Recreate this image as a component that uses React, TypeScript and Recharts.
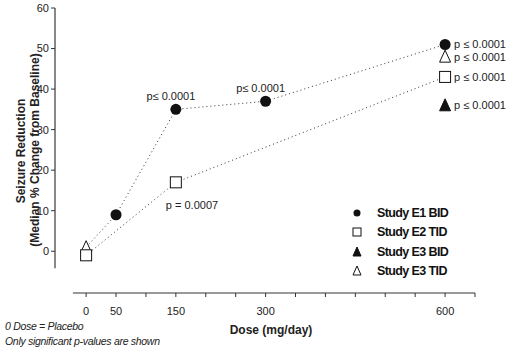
import React from 'react';
import { ComposedChart, Line, Scatter, XAxis, YAxis, ReferenceLine } from 'recharts';

// values
const e1Doses = [0, 50, 150, 300, 600];
const e1Values = [1, 9, 35, 37, 51];
const e1P = ['', '', 'p≤ 0.0001', 'p≤ 0.0001', 'p ≤ 0.0001'];

const e2Doses = [0, 150, 600];
const e2Values = [-1, 17, 43];
const e2P = ['', 'p = 0.0007', 'p ≤ 0.0001'];

const e3BidDoses = [600];
const e3BidValues = [36];
const e3BidP = ['p ≤ 0.0001'];

const e3TidDoses = [0, 600];
const e3TidValues = [1, 48];
const e3TidP = ['', 'p ≤ 0.0001'];

const seriesNames = ['Study E1 BID', 'Study E2 TID', 'Study E3 BID', 'Study E3 TID'];

const xTicks = [0, 50, 100, 150, 200, 250, 300, 350, 400, 450, 500, 550, 600, 650];
const xLabelled = [0, 50, 150, 300, 600];
const yTicks = [0, 10, 20, 30, 40, 50, 60];

const build = (doses: number[], values: number[], p: string[]) =>
    doses.map((dose, i) => ({ dose, v: values[i], p: p[i] }));

const e1Line = build(e1Doses, e1Values, e1P);
const e1Pts = e1Line.filter(d => d.dose > 0); // placebo marker is the E3 TID triangle
const e2Data = build(e2Doses, e2Values, e2P);
const e3BidData = build(e3BidDoses, e3BidValues, e3BidP);
const e3TidData = build(e3TidDoses, e3TidValues, e3TidP);

const INK = '#111';
const FONT = 'Liberation Sans, Arial, sans-serif';

type Kind = 'circle' | 'square' | 'tri' | 'otri';

const Marker = ({ kind, cx, cy, s }: { kind: Kind; cx: number; cy: number; s: number }) => {
    const h = s / 2;
    if (kind === 'circle') return <circle cx={cx} cy={cy} r={h} fill={INK} />;
    if (kind === 'square')
        return <rect x={cx - h} y={cy - h} width={s} height={s} fill="#fff" stroke={INK} strokeWidth={1} />;
    const pts = `${cx},${cy - h - 1} ${cx - h},${cy + h} ${cx + h},${cy + h}`;
    return <polygon points={pts} fill={kind === 'tri' ? INK : '#fff'} stroke={INK} strokeWidth={1} />;
};

// marker plus its p-value; 600 mg labels go to the right, others above / below
const makeShape = (kind: Kind, below = false) => (props: any) => {
    const { cx, cy, payload } = props;
    let label = null;
    if (payload.p) {
        if (payload.dose === 600) {
            label = <text x={cx + 9} y={cy + 4} fontSize={11} fontFamily={FONT} fill="#222">{payload.p}</text>;
        } else if (below) {
            label = <text x={cx - 10} y={cy + 27} fontSize={11} fontFamily={FONT} fill="#222">{payload.p}</text>;
        } else {
            label = <text x={cx - 5} y={cy - 9} fontSize={11} fontFamily={FONT} fill="#222" textAnchor="middle">{payload.p}</text>;
        }
    }
    return (
        <g>
            <Marker kind={kind} cx={cx} cy={cy} s={11} />
            {label}
        </g>
    );
};

const legendKinds: Kind[] = ['circle', 'square', 'tri', 'otri'];
const legendSizes = [7, 8, 8, 8];

const LegendBox = () => (
    <div style={{ position: 'absolute', left: 350, top: 203, fontFamily: '"Liberation Sans Narrow", "Arial Narrow", sans-serif', fontWeight: 'bold', fontSize: 12.5, color: '#111' }}>
        {seriesNames.map((name, i) => (
            <div key={name} style={{ display: 'flex', alignItems: 'center', height: 19.5 }}>
                <svg width={14} height={14} style={{ marginRight: 13 }}>
                    <Marker kind={legendKinds[i]} cx={7} cy={7} s={legendSizes[i]} />
                </svg>
                <span style={{ letterSpacing: -0.6 }}>{name}</span>
            </div>
        ))}
    </div>
);

const YTitle = () => (
    <g fontFamily={FONT} fontWeight="bold" fontSize={12} fill="#222" textAnchor="middle">
        <text transform="translate(24.5,151) rotate(-90)">Seizure Reduction</text>
        <text transform="translate(39,150) rotate(-90)">(Median % Change from Baseline)</text>
    </g>
);

export default function App() {
    return (
        <div style={{ position: 'absolute', left: 0, top: 0, width: 507, height: 351, background: '#fff' }}>
            <ComposedChart width={507} height={351} margin={{ top: 8, right: 32, bottom: 28, left: 5 }}>
                <XAxis
                    type="number"
                    dataKey="dose"
                    domain={[-52, 650]}
                    ticks={xTicks}
                    tickFormatter={(v: number) => (xLabelled.includes(v) ? String(v) : '')}
                    axisLine={false}
                    tickLine={{ stroke: '#333' }}
                    tickSize={4}
                    tickMargin={10}
                    height={30}
                    tick={{ fontSize: 11, fontFamily: FONT, fill: '#222' }}
                    label={{ value: 'Dose (mg/day)', position: 'insideBottom', offset: -11, dx: 6, fontSize: 12, fontWeight: 'bold', fontFamily: FONT, fill: '#222' }}
                />
                <YAxis
                    type="number"
                    domain={[-10.3, 60]}
                    ticks={yTicks}
                    axisLine={false}
                    tickLine={{ stroke: '#333' }}
                    tickSize={4}
                    tickMargin={2}
                    width={50}
                    tick={{ fontSize: 11, fontFamily: FONT, fill: '#222' }}
                    label={{ content: () => <YTitle /> }}
                />
                {/* offset axis lines */}
                <ReferenceLine segment={[{ x: -52, y: -4.2 }, { x: -52, y: 60 }]} stroke={INK} ifOverflow="visible" />
                <ReferenceLine segment={[{ x: -22, y: -10.3 }, { x: 650, y: -10.3 }]} stroke="#333" ifOverflow="visible" />

                <Line data={e1Line} dataKey="v" stroke="#333" strokeWidth={1} strokeDasharray="1 3" dot={false} activeDot={false} isAnimationActive={false} />
                <Line data={e2Data} dataKey="v" stroke="#333" strokeWidth={1} strokeDasharray="1 3" dot={false} activeDot={false} isAnimationActive={false} />

                <Scatter data={e3TidData} dataKey="v" shape={makeShape('otri')} isAnimationActive={false} />
                <Scatter data={e2Data} dataKey="v" shape={makeShape('square', true)} isAnimationActive={false} />
                <Scatter data={e1Pts} dataKey="v" shape={makeShape('circle')} isAnimationActive={false} />
                <Scatter data={e3BidData} dataKey="v" shape={makeShape('tri')} isAnimationActive={false} />
            </ComposedChart>
            <LegendBox />
            <div style={{ position: 'absolute', left: 5, top: 319, fontFamily: FONT, fontStyle: 'italic', fontSize: 10.5, color: '#222', lineHeight: '15px', letterSpacing: -0.3 }}>
                <div>0 Dose = Placebo</div>
                <div>Only significant p-values are shown</div>
            </div>
        </div>
    );
}
